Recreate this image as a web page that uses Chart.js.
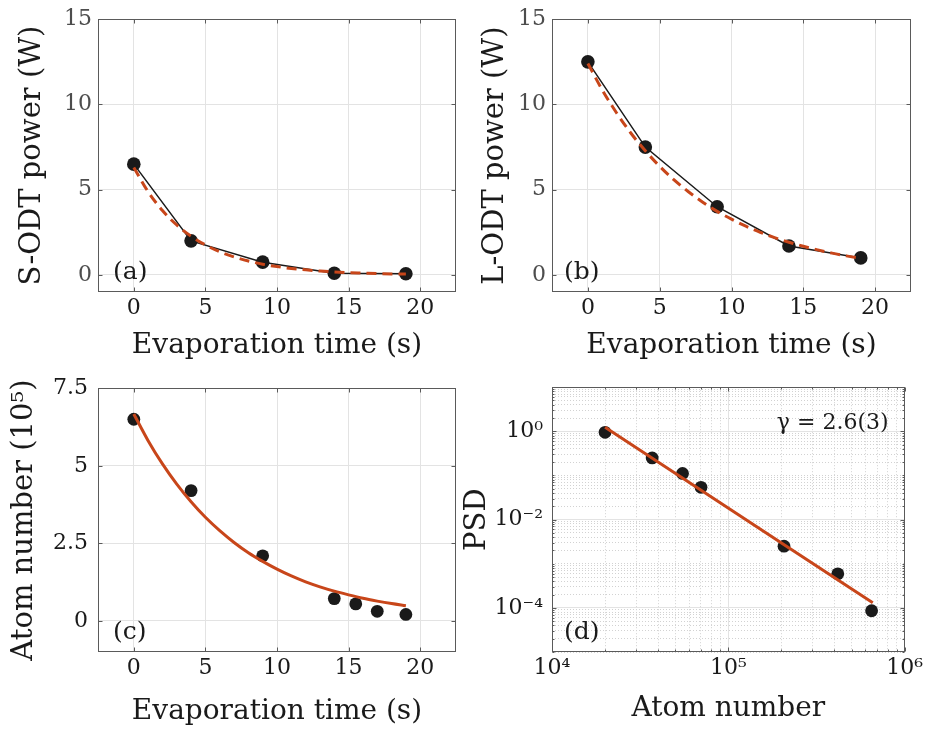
<!DOCTYPE html>
<html>
<head>
<meta charset="utf-8">
<script src="https://cdn.jsdelivr.net/npm/chart.js@4.4.1/dist/chart.umd.min.js"></script>
<style>
  body { margin: 0; background: #fff; }
  #wrap { position: relative; width: 926px; height: 730px; }
  #wrap canvas { position: absolute; }
</style>
</head>
<body>
<div id="wrap">
  <canvas id="pa" width="463" height="365" style="left:0;top:0"></canvas>
  <canvas id="pb" width="463" height="365" style="left:463px;top:0"></canvas>
  <canvas id="pc" width="463" height="365" style="left:0;top:365px"></canvas>
  <canvas id="pd" width="463" height="365" style="left:463px;top:365px"></canvas>
</div>
<script>
// tick values
const timeTicks = [0, 5, 10, 15, 20];
const powerTicks = [0, 5, 10, 15];
const atomTicks = [0, 2.5, 5, 7.5];
const psdXMajor = [1e4, 1e5, 1e6];
const psdYMajor = [1e-4, 1e-2, 1e0];

// (a) + (b) measured powers
const evapTime = [0, 4, 9, 14, 19];
const sOdtPower = [6.5, 2.0, 0.75, 0.1, 0.07];
const lOdtPower = [12.5, 7.5, 4.0, 1.7, 1.0];

// dashed fit curves
const fitTime = [0, 1, 2, 3, 4, 5, 6, 7, 8, 9, 10, 11, 12, 13, 14, 15, 16, 17, 18, 19];
const sOdtFit = [6.3, 4.88, 3.78, 2.93, 2.27, 1.76, 1.36, 1.06, 0.82, 0.63, 0.49, 0.38, 0.3, 0.23, 0.18, 0.14, 0.11, 0.08, 0.06, 0.05];
const lOdtFit = [12.4, 10.85, 9.5, 8.31, 7.28, 6.37, 5.57, 4.88, 4.27, 3.73, 3.27, 2.86, 2.5, 2.19, 1.92, 1.68, 1.47, 1.28, 1.12, 0.98];

// (c) atom number (10^5)
const atomTime = [0, 4, 9, 14, 15.5, 17, 19];
const atomNumber = [6.5, 4.2, 2.1, 0.72, 0.55, 0.31, 0.21];
const atomFit = [6.67, 5.81, 5.06, 4.41, 3.84, 3.34, 2.91, 2.53, 2.2, 1.92, 1.67, 1.45, 1.26, 1.1, 0.96, 0.84, 0.73, 0.64, 0.56, 0.49];

// (d) PSD vs atom number
const psdAtoms = [2.0e4, 3.7e4, 5.5e4, 7.0e4, 2.07e5, 4.18e5, 6.5e5];
const psdValues = [0.95, 0.25, 0.111, 0.054, 2.5e-3, 5.9e-4, 8.6e-5];
const psdFitAtoms = [2.0e4, 6.6e5];
const psdFitValues = [1.24, 1.3e-4];

const FONT = "'DejaVu Serif', serif";
const INK = '#1a1a1a';
const RED = '#c8461a';
const GRID = '#e3e3e3';
const MINOR = '#d2d2d2';
const BOX = '#5a5a5a';

const SUP = { '-': '⁻', '0': '⁰', '1': '¹', '2': '²', '3': '³', '4': '⁴', '5': '⁵', '6': '⁶', '7': '⁷', '8': '⁸', '9': '⁹' };
const pow10 = v => '10' + String(Math.round(Math.log10(v))).split('').map(c => SUP[c]).join('');
const pts = (xs, ys) => xs.map((x, i) => ({ x, y: ys[i] }));

// 1..9 x 10^e for every decade between lo and hi
function logTicks(lo, hi) {
  const out = [];
  for (let e = lo; e < hi; e++) for (let m = 1; m < 10; m++) out.push(m * Math.pow(10, e));
  out.push(Math.pow(10, hi));
  return out;
}
const isMajor = (list, v) => !list || list.some(m => Math.abs(Math.log10(m) - Math.log10(v)) < 1e-6);

// matlab style box, inner ticks, panel letter
const matBox = {
  id: 'matBox',
  afterDraw(chart, _args, o) {
    const { ctx, chartArea: a } = chart;
    const xs = chart.scales.x, ys = chart.scales.y;
    const L = Math.round(a.left) + 0.5, R = Math.round(a.right) - 0.5;
    const T = Math.round(a.top) + 0.5, B = Math.round(a.bottom) - 0.5;
    ctx.save();
    ctx.strokeStyle = BOX;
    ctx.lineWidth = 1;
    ctx.beginPath();
    xs.ticks.forEach(t => {
      const len = isMajor(o.xMajor, t.value) ? 4 : 2;
      const p = Math.round(xs.getPixelForValue(t.value)) + 0.5;
      ctx.moveTo(p, B); ctx.lineTo(p, B - len);
      ctx.moveTo(p, T); ctx.lineTo(p, T + len);
    });
    ys.ticks.forEach(t => {
      const len = isMajor(o.yMajor, t.value) ? 4 : 2;
      const p = Math.round(ys.getPixelForValue(t.value)) + 0.5;
      ctx.moveTo(L, p); ctx.lineTo(L + len, p);
      ctx.moveTo(R, p); ctx.lineTo(R - len, p);
    });
    ctx.stroke();
    ctx.strokeRect(L, T, R - L, B - T);
    ctx.fillStyle = INK;
    ctx.font = '25px ' + FONT;
    ctx.textAlign = 'left';
    ctx.textBaseline = 'alphabetic';
    ctx.fillText(o.label, a.left + o.labelDx, a.bottom - 13);
    if (o.note) {
      ctx.font = '22px ' + FONT;
      ctx.textAlign = 'right';
      ctx.fillText(o.note, a.right - 16, a.top + 42);
    }
    ctx.restore();
  }
};

function axis(c) {
  const log = !!c.log;
  return {
    type: log ? 'logarithmic' : 'linear',
    min: c.min,
    max: c.max,
    afterFit: c.fit,
    afterBuildTicks: s => { s.ticks = c.ticks.map(v => ({ value: v })); },
    ticks: {
      autoSkip: false,
      maxRotation: 0,
      padding: c.pad,
      color: c.tickColor || INK,
      font: { family: FONT, size: 22 },
      callback: v => log ? (isMajor(c.major, v) ? pow10(v) : '') : String(v)
    },
    grid: {
      drawTicks: false,
      lineWidth: 1,
      color: ctx => (log && ctx.tick && !isMajor(c.major, ctx.tick.value)) ? MINOR : GRID
    },
    border: {
      display: false,
      dash: ctx => (log && ctx.tick && !isMajor(c.major, ctx.tick.value)) ? [1, 2] : []
    },
    title: {
      display: true,
      text: c.title,
      color: INK,
      font: { family: FONT, size: c.titleSize, lineHeight: 1 },
      padding: { top: c.titlePad, bottom: c.titlePad }
    }
  };
}

function panel(id, p) {
  const area = p.area;
  new Chart(document.getElementById(id), {
    type: 'line',
    data: { datasets: p.datasets },
    options: {
      responsive: false,
      animation: false,
      events: [],
      layout: { autoPadding: false, padding: { left: 0, top: area.top, right: 463 - area.right, bottom: 0 } },
      plugins: { legend: { display: false }, tooltip: { enabled: false }, matBox: p.box },
      scales: {
        x: axis(Object.assign({ fit: s => { s.height = 365 - area.bottom; } }, p.x)),
        y: axis(Object.assign({ fit: s => { s.width = area.left; } }, p.y))
      }
    },
    plugins: [matBox]
  });
}

const fitLine = (data, dash) => ({
  data, borderColor: RED, borderWidth: 3, borderDash: dash, pointRadius: 0,
  cubicInterpolationMode: 'monotone', clip: false
});
const dots = (data, joined, r) => ({
  data, showLine: joined, borderColor: INK, borderWidth: 1.5, tension: 0,
  pointRadius: r, pointBackgroundColor: INK, pointBorderWidth: 0, clip: false
});

panel('pa', {
  area: { left: 98, right: 456, top: 15, bottom: 292 },
  datasets: [fitLine(pts(fitTime, sOdtFit), [10, 6]), dots(pts(evapTime, sOdtPower), true, 6.8)],
  x: { min: -2.5, max: 22.5, ticks: timeTicks, pad: 3, title: 'Evaporation time (s)', titleSize: 28, titlePad: 5 },
  y: { min: -1, max: 15, ticks: powerTicks, pad: 6, tickColor: '#4d4d4d', title: 'S-ODT power (W)', titleSize: 29, titlePad: 18 },
  box: { label: '(a)', labelDx: 15 }
});

panel('pb', {
  area: { left: 89, right: 448, top: 15, bottom: 292 },
  datasets: [fitLine(pts(fitTime, lOdtFit), [10, 6]), dots(pts(evapTime, lOdtPower), true, 6.8)],
  x: { min: -2.5, max: 22.5, ticks: timeTicks, pad: 3, title: 'Evaporation time (s)', titleSize: 28, titlePad: 5 },
  y: { min: -1, max: 15, ticks: powerTicks, pad: 6, tickColor: '#4d4d4d', title: 'L-ODT power (W)', titleSize: 29, titlePad: 18 },
  box: { label: '(b)', labelDx: 12 }
});

panel('pc', {
  area: { left: 98, right: 456, top: 10, bottom: 287 },
  datasets: [fitLine(pts(fitTime, atomFit), []), dots(pts(atomTime, atomNumber), false, 6.4)],
  x: { min: -2.5, max: 22.5, ticks: timeTicks, pad: 3, title: 'Evaporation time (s)', titleSize: 28, titlePad: 4 },
  y: { min: -1, max: 7.5, ticks: atomTicks, pad: 10, title: 'Atom number (10⁵)', titleSize: 29, titlePad: 10 },
  box: { label: '(c)', labelDx: 15 }
});

panel('pd', {
  area: { left: 89, right: 448, top: 10, bottom: 287 },
  datasets: [fitLine(pts(psdFitAtoms, psdFitValues), []), dots(pts(psdAtoms, psdValues), false, 6.4)],
  x: { log: true, min: 1e4, max: 1e6, ticks: logTicks(4, 6), major: psdXMajor, pad: 3, title: 'Atom number', titleSize: 28, titlePad: 7 },
  y: { log: true, min: 1e-5, max: 1e1, ticks: logTicks(-5, 1), major: psdYMajor, pad: 9, title: 'PSD', titleSize: 29, titlePad: 0 },
  box: { label: '(d)', labelDx: 12, xMajor: psdXMajor, yMajor: psdYMajor, note: 'γ = 2.6(3)' }
});
</script>
</body>
</html>
